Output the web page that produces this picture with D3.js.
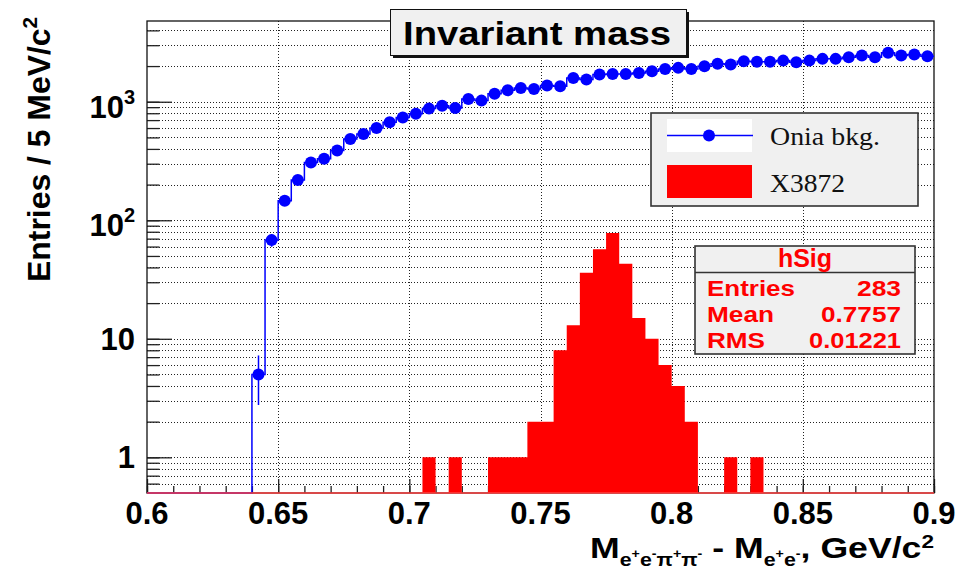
<!DOCTYPE html>
<html lang="en">
<head>
<meta charset="UTF-8">
<script src="https://cdn.jsdelivr.net/npm/d3@7"></script>
<title>Invariant mass</title>
<style>
    body { margin: 0; background: #fff; }
    svg { display: block; }
    text { font-family: "Liberation Sans", Arial, Helvetica, sans-serif; font-weight: bold; }
    text.serif { font-family: "Liberation Serif", "Times New Roman", serif; font-weight: normal; }
</style>
</head>
<body>
<script>
// Onia background, 5 MeV bins (low edges)
let bkgBins = [0.640, 0.645, 0.650, 0.655, 0.660, 0.665, 0.670, 0.675, 0.680, 0.685,
    0.690, 0.695, 0.700, 0.705, 0.710, 0.715, 0.720, 0.725, 0.730, 0.735,
    0.740, 0.745, 0.750, 0.755, 0.760, 0.765, 0.770, 0.775, 0.780, 0.785,
    0.790, 0.795, 0.800, 0.805, 0.810, 0.815, 0.820, 0.825, 0.830, 0.835,
    0.840, 0.845, 0.850, 0.855, 0.860, 0.865, 0.870, 0.875, 0.880, 0.885,
    0.890, 0.895]
let bkgCounts = [5, 68, 146, 219, 307, 330, 388, 485, 535, 601,
    670, 738, 793, 875, 927, 887, 1057, 1022, 1170, 1248,
    1306, 1282, 1368, 1349, 1589, 1538, 1694, 1718, 1718, 1751,
    1807, 1892, 1931, 1892, 1990, 2089, 2061, 2198, 2172, 2172,
    2223, 2153, 2223, 2300, 2300, 2374, 2455, 2374, 2585, 2455,
    2500, 2422]

// X3872 signal (hSig), 5 MeV bins, every bin of the range
let sigBins = [0.700, 0.705, 0.710, 0.715, 0.720, 0.725, 0.730, 0.735, 0.740, 0.745,
    0.750, 0.755, 0.760, 0.765, 0.770, 0.775, 0.780, 0.785, 0.790, 0.795,
    0.800, 0.805, 0.810, 0.815, 0.820, 0.825, 0.830, 0.835]
let sigCounts = [0, 1, 0, 1, 0, 0, 1, 1, 1, 2,
    2, 8, 13, 36, 57, 78, 43, 15, 10, 6,
    4, 2, 0, 0, 1, 0, 1, 0]

let binWidth = 0.005
let xTickLabels = ["0.6", "0.65", "0.7", "0.75", "0.8", "0.85", "0.9"]
let yTickValues = [1, 10, 100, 1000]
let yTickBase = ["1", "10", "10", "10"]
let yTickExp = ["", "", "2", "3"]
let statsNames = ["Entries", "Mean", "RMS"]
let statsValues = ["283", "0.7757", "0.01221"]
let legendLabels = ["Onia bkg.", "X3872"]

let width = 961
let height = 572
let svg = d3.select("body").append("svg")
    .attr("width", width)
    .attr("height", height)

svg.append("rect").attr("width", width).attr("height", height).attr("fill", "white")

let x = d3.scaleLinear().domain([0.6, 0.9]).range([147, 934])
let y = d3.scaleLog().domain([0.5, 4800]).range([493, 21])
let x0 = 147, x1 = 934, y0 = 493, y1 = 21

// grid
let grid = svg.append("g")
    .attr("stroke", "#222")
    .attr("stroke-width", 1)
    .attr("stroke-dasharray", "1,2")
grid.selectAll(".hg").data(y.ticks().filter(d => d > 0.5))
    .join("line")
    .attr("x1", x0).attr("x2", x1)
    .attr("y1", d => Math.round(y(d)) + 0.5).attr("y2", d => Math.round(y(d)) + 0.5)
grid.selectAll(".vg").data(x.ticks(6).slice(1, -1))
    .join("line")
    .attr("y1", y1).attr("y2", y0)
    .attr("x1", d => Math.round(x(d)) + 0.5).attr("x2", d => Math.round(x(d)) + 0.5)

// axes ticks (inside the frame)
svg.append("g")
    .attr("transform", `translate(0,${y0})`)
    .call(d3.axisBottom(x).tickValues(x.ticks(30)).tickSize(-7).tickFormat(""))
    .call(g => g.select(".domain").remove())
svg.append("g")
    .attr("transform", `translate(0,${y0})`)
    .call(d3.axisBottom(x).ticks(6).tickSize(-14).tickFormat(""))
    .call(g => g.select(".domain").remove())
svg.append("g")
    .attr("transform", `translate(${x0},0)`)
    .call(d3.axisLeft(y).tickValues(y.ticks().filter(d => d > 0.5)).tickSize(-12.5).tickFormat(""))
    .call(g => g.select(".domain").remove())
svg.append("g")
    .attr("transform", `translate(${x0},0)`)
    .call(d3.axisLeft(y).tickValues(yTickValues).tickSize(-25).tickFormat(""))
    .call(g => g.select(".domain").remove())
svg.selectAll(".tick line").attr("stroke", "#222").attr("stroke-width", 1.3)

// frame
svg.append("rect")
    .attr("x", x0).attr("y", y1)
    .attr("width", x1 - x0).attr("height", y0 - y1)
    .attr("fill", "none").attr("stroke", "#111").attr("stroke-width", 1.3)

// background histogram line (steps)
let bkgPts = [[0.6, 0.5]].concat(bkgBins.map((b, i) => [b, bkgCounts[i]]))
bkgPts.push([0.9, bkgCounts[bkgCounts.length - 1]])
let step = d3.line()
    .x(d => x(d[0]))
    .y(d => y(d[1]))
    .curve(d3.curveStepAfter)
svg.append("path")
    .attr("d", step(bkgPts))
    .attr("fill", "none")
    .attr("stroke", "#0000ff")
    .attr("stroke-width", 1.5)

// signal histogram, one filled step area
let sigPts = sigBins.map((b, i) => [b, Math.max(sigCounts[i], 0.5)])
sigPts.push([sigBins[sigBins.length - 1] + binWidth, 0.5])
let sigArea = d3.area()
    .x(d => x(d[0]))
    .y0(y0)
    .y1(d => y(d[1]))
    .curve(d3.curveStepAfter)
svg.append("path")
    .attr("d", sigArea(sigPts))
    .attr("fill", "#ff0000")
svg.append("line")
    .attr("x1", x0).attr("x2", x1)
    .attr("y1", y0).attr("y2", y0)
    .attr("stroke", "#ff4040").attr("stroke-width", 1.6)

// background errors and markers
svg.append("g").selectAll("line")
    .data(bkgBins)
    .join("line")
    .attr("x1", d => x(d + binWidth / 2)).attr("x2", d => x(d + binWidth / 2))
    .attr("y1", (d, i) => y(bkgCounts[i] + Math.sqrt(bkgCounts[i])))
    .attr("y2", (d, i) => y(bkgCounts[i] - Math.sqrt(bkgCounts[i])))
    .attr("stroke", "#0000ff")
    .attr("stroke-width", 1.5)
svg.append("g").selectAll("circle")
    .data(bkgBins)
    .join("circle")
    .attr("cx", d => x(d + binWidth / 2))
    .attr("cy", (d, i) => y(bkgCounts[i]))
    .attr("r", 6)
    .attr("fill", "#0000ff")

// axis labels
svg.append("g").selectAll("text")
    .data(x.ticks(6))
    .join("text")
    .attr("x", d => x(d))
    .attr("y", 524)
    .attr("text-anchor", "middle")
    .attr("font-size", 31)
    .text((d, i) => xTickLabels[i])

let yl = svg.append("g").selectAll("text")
    .data(yTickValues)
    .join("text")
    .attr("x", 135)
    .attr("y", (d, i) => y(d) + (yTickExp[i] ? 16 : 11))
    .attr("text-anchor", "end")
    .attr("font-size", 31)
yl.append("tspan").text((d, i) => yTickBase[i])
yl.append("tspan")
    .attr("font-size", 20)
    .attr("dy", -14)
    .text((d, i) => yTickExp[i])

let yt = svg.append("text")
    .attr("transform", "translate(50,17) rotate(-90)")
    .attr("text-anchor", "end")
    .attr("font-size", 31)
    .attr("textLength", 265)
    .attr("lengthAdjust", "spacingAndGlyphs")
yt.append("tspan").text("Entries / 5 MeV/c")
yt.append("tspan").attr("font-size", 20).attr("dy", -13).text("2")

let xt = svg.append("text")
    .attr("x", 934)
    .attr("y", 558)
    .attr("text-anchor", "end")
    .attr("font-size", 30)
    .attr("textLength", 344)
    .attr("lengthAdjust", "spacingAndGlyphs")
let parts = [["M", 30, 0], ["e", 18, 8], ["+", 12, -8], ["e", 18, 8], ["-", 12, -8],
    ["π", 18, 8], ["+", 12, -8], ["π", 18, 8], ["-", 12, -8], [" - M", 30, 0],
    ["e", 18, 8], ["+", 12, -8], ["e", 18, 8], ["-", 12, -8], [", GeV/c", 30, 0], ["2", 19, -10]]
let shift = 0
parts.forEach(p => {
    let dy = p[2] == 0 ? -shift : p[2]
    shift += dy
    xt.append("tspan").attr("font-size", p[1]).attr("dy", dy).text(p[0])
})

// title box
svg.append("rect").attr("x", 393).attr("y", 12).attr("width", 296).attr("height", 46).attr("fill", "#111")
svg.append("rect").attr("x", 390.5).attr("y", 9.5).attr("width", 296).attr("height", 46)
    .attr("fill", "#f0f0f0").attr("stroke", "#111").attr("stroke-width", 1)
svg.append("text")
    .attr("x", 537).attr("y", 45)
    .attr("text-anchor", "middle")
    .attr("font-size", 34)
    .attr("textLength", 268)
    .attr("lengthAdjust", "spacingAndGlyphs")
    .attr("fill", "#000")
    .text("Invariant mass")

// legend
let leg = svg.append("g")
leg.append("rect").attr("x", 651).attr("y", 113).attr("width", 267).attr("height", 93)
    .attr("fill", "#f0f0f0").attr("stroke", "#333").attr("stroke-width", 1.6)
leg.append("rect").attr("x", 667).attr("y", 119).attr("width", 85).attr("height", 33).attr("fill", "white")
leg.append("line").attr("x1", 667).attr("x2", 753).attr("y1", 135.5).attr("y2", 135.5)
    .attr("stroke", "#0000ff").attr("stroke-width", 1.5)
leg.append("circle").attr("cx", 709).attr("cy", 135.5).attr("r", 6).attr("fill", "#0000ff")
leg.append("rect").attr("x", 667).attr("y", 165).attr("width", 85).attr("height", 33).attr("fill", "#ff0000")
leg.selectAll(".lt").data(legendLabels)
    .join("text")
    .attr("class", "serif")
    .attr("x", 770)
    .attr("y", (d, i) => 145 + i * 47)
    .attr("font-size", 26)
    .attr("textLength", (d, i) => [110, 75][i])
    .attr("lengthAdjust", "spacingAndGlyphs")
    .attr("fill", "#111")
    .text(d => d)

// stats box
let st = svg.append("g")
st.append("rect").attr("x", 695).attr("y", 246).attr("width", 220).attr("height", 108)
    .attr("fill", "#f0f0f0").attr("stroke", "#333").attr("stroke-width", 1.6)
st.append("line").attr("x1", 695).attr("x2", 915).attr("y1", 272.5).attr("y2", 272.5)
    .attr("stroke", "#333").attr("stroke-width", 1.6)
st.append("text").attr("x", 805).attr("y", 266.5)
    .attr("text-anchor", "middle").attr("font-size", 25).attr("fill", "#ff0000")
    .text("hSig")
st.selectAll(".sn").data(statsNames)
    .join("text")
    .attr("x", 707)
    .attr("y", (d, i) => 296 + i * 26)
    .attr("font-size", 22)
    .attr("fill", "#ff0000")
    .attr("textLength", (d, i) => [88, 67, 58][i])
    .attr("lengthAdjust", "spacingAndGlyphs")
    .text(d => d)
st.selectAll(".sv").data(statsValues)
    .join("text")
    .attr("x", 901)
    .attr("y", (d, i) => 296 + i * 26)
    .attr("text-anchor", "end")
    .attr("font-size", 22)
    .attr("fill", "#ff0000")
    .attr("textLength", (d, i) => [44, 80, 92][i])
    .attr("lengthAdjust", "spacingAndGlyphs")
    .text(d => d)
</script>
</body>
</html>
